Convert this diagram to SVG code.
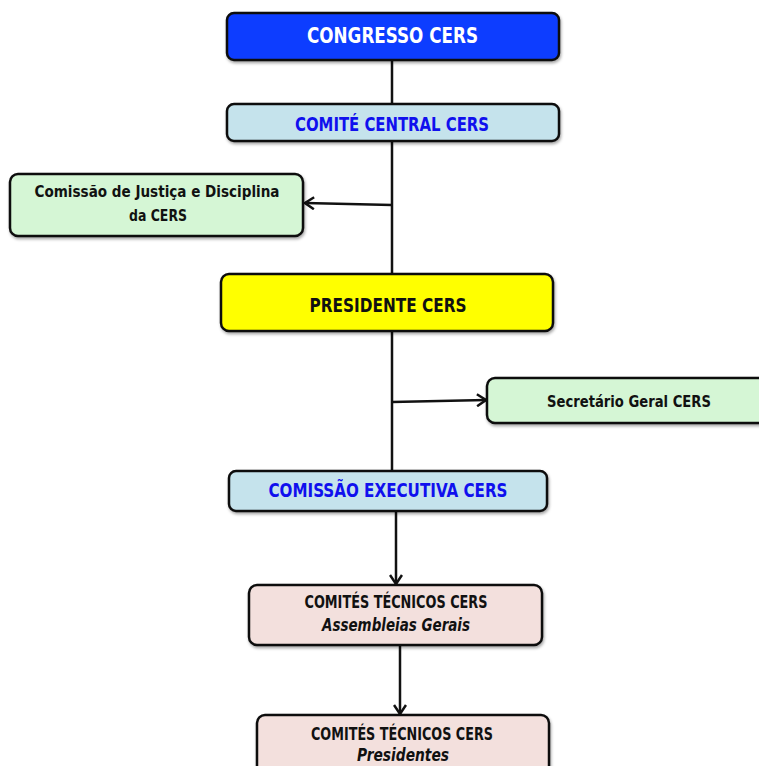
<svg xmlns="http://www.w3.org/2000/svg" width="759" height="766" viewBox="0 0 759 766">
<defs>
<filter id="sh" x="-10%" y="-20%" width="120%" height="150%"><feDropShadow dx="1" dy="2" stdDeviation="1.5" flood-color="#000" flood-opacity="0.35"/></filter>
<marker id="arr" markerWidth="12" markerHeight="14" refX="10" refY="7" orient="auto" markerUnits="userSpaceOnUse"><path d="M1,1 L10,7 L1,13" fill="none" stroke="#111" stroke-width="2.5" stroke-linejoin="miter"/></marker>
</defs>
<style>
.box{stroke:#111;stroke-width:2.5;filter:url(#sh)}
text{font-family:"DejaVu Sans Condensed","DejaVu Sans","Liberation Sans",sans-serif;font-weight:bold;text-anchor:middle}
.t{fill:#111}
.b{fill:#1010ee}
.c{stroke:#111;stroke-width:2.5;fill:none}
</style>
<rect width="759" height="766" fill="#fff"/>
<g id="connectors">
<line class="c" x1="392" y1="60" x2="392" y2="472"/>
<line class="c" x1="392" y1="205" x2="305" y2="203" marker-end="url(#arr)"/>
<line class="c" x1="392" y1="402" x2="486" y2="400" marker-end="url(#arr)"/>
<line class="c" x1="396" y1="511" x2="396" y2="584" marker-end="url(#arr)"/>
<line class="c" x1="400" y1="645" x2="400" y2="714" marker-end="url(#arr)"/>
</g>
<g id="congresso">
<rect class="box" x="227" y="13" width="332" height="47" rx="7" fill="#0a3cff"/>
<text x="392.5" y="43" font-size="22" fill="#fff" textLength="171" lengthAdjust="spacingAndGlyphs">CONGRESSO CERS</text>
</g>
<g id="comite-central">
<rect class="box" x="227" y="104" width="332" height="37" rx="7" fill="#c5e3ec"/>
<text class="b" x="392" y="131" font-size="20" textLength="194" lengthAdjust="spacingAndGlyphs">COMITÉ CENTRAL CERS</text>
</g>
<g id="comissao-justica">
<rect class="box" x="10" y="174" width="293" height="62" rx="8" fill="#d5f6d5"/>
<text class="t" x="157" y="197" font-size="15" textLength="245" lengthAdjust="spacingAndGlyphs">Comissão de Justiça e Disciplina</text>
<text class="t" x="158" y="221" font-size="15" textLength="58" lengthAdjust="spacingAndGlyphs">da CERS</text>
</g>
<g id="presidente">
<rect class="box" x="221" y="274" width="332" height="57" rx="8" fill="#ffff00"/>
<text class="t" x="388" y="312" font-size="19.5" textLength="157" lengthAdjust="spacingAndGlyphs">PRESIDENTE CERS</text>
</g>
<g id="secretario">
<rect class="box" x="487" y="378" width="290" height="45" rx="8" fill="#d5f6d5"/>
<text class="t" x="629" y="407" font-size="15" textLength="164" lengthAdjust="spacingAndGlyphs">Secretário Geral CERS</text>
</g>
<g id="comissao-executiva">
<rect class="box" x="229" y="471" width="318" height="40" rx="7" fill="#c5e3ec"/>
<text class="b" x="388" y="497" font-size="19" textLength="239" lengthAdjust="spacingAndGlyphs">COMISSÃO EXECUTIVA CERS</text>
</g>
<g id="comites-assembleias">
<rect class="box" x="249" y="585" width="293" height="60" rx="8" fill="#f3e0dd"/>
<text class="t" x="396" y="608" font-size="17" textLength="183" lengthAdjust="spacingAndGlyphs">COMITÉS TÉCNICOS CERS</text>
<text class="t" x="396" y="631" font-size="17" font-style="italic" textLength="148" lengthAdjust="spacingAndGlyphs">Assembleias Gerais</text>
</g>
<g id="comites-presidentes">
<rect class="box" x="257" y="715" width="292" height="70" rx="8" fill="#f3e0dd"/>
<text class="t" x="402" y="740" font-size="17" textLength="182" lengthAdjust="spacingAndGlyphs">COMITÉS TÉCNICOS CERS</text>
<text class="t" x="403" y="761" font-size="17" font-style="italic" textLength="92" lengthAdjust="spacingAndGlyphs">Presidentes</text>
</g>
</svg>
